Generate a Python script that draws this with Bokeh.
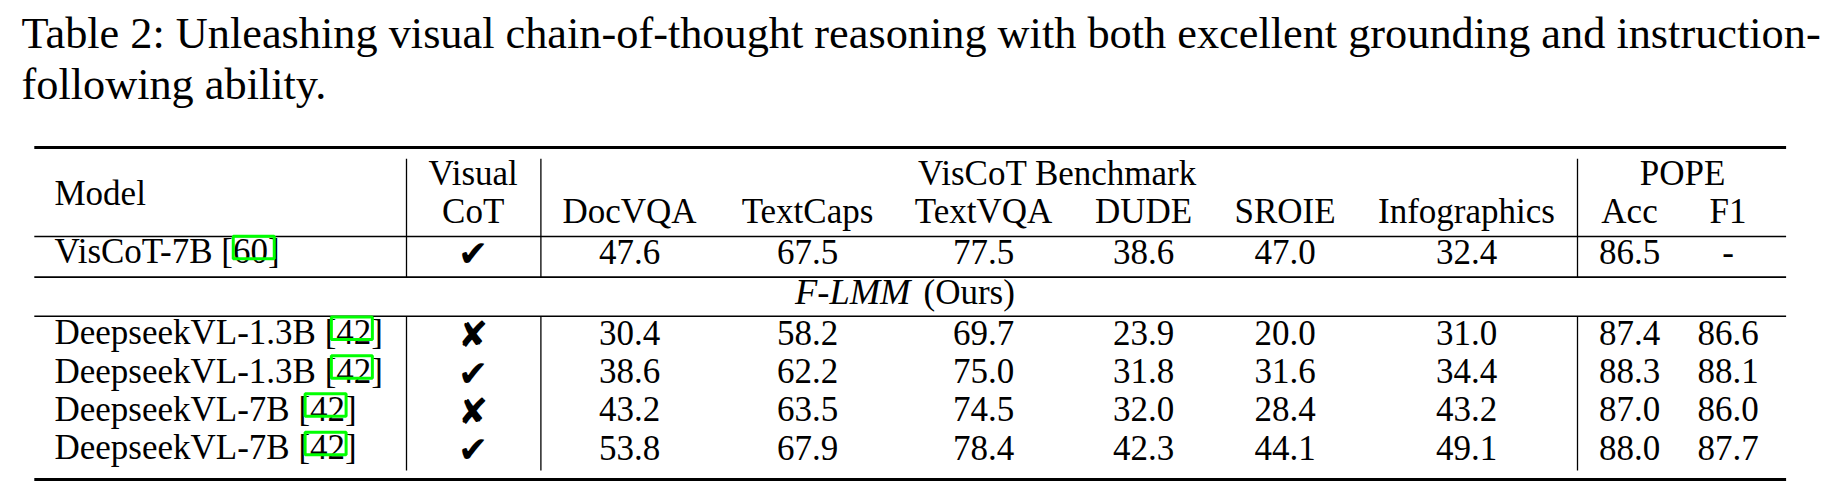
from bokeh.plotting import figure
from bokeh.models import Range1d, ColumnDataSource
from bokeh.core.properties import value
from bokeh.embed import file_html
from bokeh.resources import INLINE

# ---------------- data ----------------
title_lines = [
    "Table 2: Unleashing visual chain-of-thought reasoning with both excellent grounding and instruction-",
    "following ability.",
]
models = ["VisCoT-7B", "DeepseekVL-1.3B", "DeepseekVL-1.3B", "DeepseekVL-7B", "DeepseekVL-7B"]
refs = ["60", "42", "42", "42", "42"]
visual_cot = [True, False, True, False, True]
bench_cols = ["DocVQA", "TextCaps", "TextVQA", "DUDE", "SROIE", "Infographics"]
pope_cols = ["Acc", "F1"]
docvqa = [47.6, 30.4, 38.6, 43.2, 53.8]
textcaps = [67.5, 58.2, 62.2, 63.5, 67.9]
textvqa = [77.5, 69.7, 75.0, 74.5, 78.4]
dude = [38.6, 23.9, 31.8, 32.0, 42.3]
sroie = [47.0, 20.0, 31.6, 28.4, 44.1]
infographics = [32.4, 31.0, 34.4, 43.2, 49.1]
pope_acc = [86.5, 87.4, 88.3, 87.0, 88.0]
pope_f1 = [None, 86.6, 88.1, 86.0, 87.7]

# ---------------- layout (page pixel coordinates) ----------------
W, H = 1824, 488
FONT = "Liberation Serif"
FS = 35            # table font size px
TFS = 44.3         # caption font size px
BASE_K = 0.3375    # svg text is placed on its central baseline

p = figure(width=W, height=H, x_range=Range1d(0, W), y_range=Range1d(H, 0),
           output_backend="svg", toolbar_location=None, min_border=0)
p.axis.visible = False
p.grid.visible = False
p.outline_line_color = None
p.background_fill_color = "white"
p.border_fill_color = "white"


def txt(xs, ys, texts, align="center", size=FS, font=FONT, style="normal"):
    src = ColumnDataSource(dict(x=xs, y=[y - BASE_K * size for y in ys], t=texts))
    p.text("x", "y", text="t", source=src, text_font=value(font),
           text_font_size=f"{size}px", text_align=align, text_baseline="alphabetic",
           text_color="black", text_font_style=style)


# caption
txt([21, 21], [48, 99], title_lines, align="left", size=TFS)

x_left, x_right = 33.8, 1785.6
col_x = [629, 807, 983, 1143, 1284.5, 1466, 1629, 1727.5]
cot_x = 472.7
name_x = 54
vlines = [406, 540.4, 1577]

# rules
p.segment(x0=[x_left, x_left], x1=[x_right, x_right], y0=[147, 479], y1=[147, 479],
          line_color="black", line_width=3)
p.segment(x0=[x_left] * 3, x1=[x_right] * 3, y0=[236, 276.6, 315.7], y1=[236, 276.6, 315.7],
          line_color="black", line_width=1.6)
p.segment(x0=vlines + vlines, x1=vlines + vlines,
          y0=[158.3] * 3 + [315.7] * 3, y1=[276.6] * 3 + [470] * 3,
          line_color="black", line_width=1.3)

# header
hy1, hy2 = 185, 222.7
txt([name_x], [205], ["Model"], align="left")
txt([cot_x, cot_x], [hy1, hy2], ["Visual", "CoT"])
txt([1057, 1682], [hy1, hy1], ["VisCoT Benchmark", "POPE"])
txt(col_x, [hy2] * len(col_x), bench_cols + pope_cols)

# rows
row_y = [263.3, 344, 382.7, 420.7, 459.3]
names = [f"{m} [{r}]" for m, r in zip(models, refs)]
txt([name_x] * len(names), row_y, names, align="left")
txt([cot_x] * len(row_y), [y + 2 for y in row_y],
    ["\u2714" if v else "\u2718" for v in visual_cot], size=36, font="DejaVu Sans")

series = [docvqa, textcaps, textvqa, dude, sroie, infographics, pope_acc, pope_f1]
for cx, ser in zip(col_x, series):
    txt([cx] * len(ser), row_y, ["-" if v is None else f"{v:.1f}" for v in ser])

# F-LMM (Ours) separator row
txt([910], [303.5], ["F-LMM"], align="right", style="italic", size=36.5)
txt([923], [303.5], ["(Ours)"], align="left")

# green link boxes around citation numbers (Times advance widths, em units)
adv = {"V": .722, "i": .278, "s": .389, "C": .667, "o": .5, "T": .611, "-": .333,
       "B": .667, " ": .25, "[": .333, "D": .722, "e": .444, "p": .5, "k": .5,
       "L": .611, ".": .25}
for ch in "0123456789":
    adv[ch] = .5
bl, br, bt, bb = [], [], [], []
for n, r, y in zip(models, refs, row_y):
    x0 = name_x + sum(adv[c] for c in n + " [") * FS
    x1 = x0 + sum(adv[c] for c in r) * FS
    bl.append(x0 - 5)
    br.append(x1 + 1)
    bt.append(y - 27.5)
    bb.append(y - 5)
p.quad(left=bl, right=br, top=bt, bottom=bb, fill_color=None,
       line_color="#00ff00", line_width=3)

open("out.html", "w").write(file_html(p, INLINE))
